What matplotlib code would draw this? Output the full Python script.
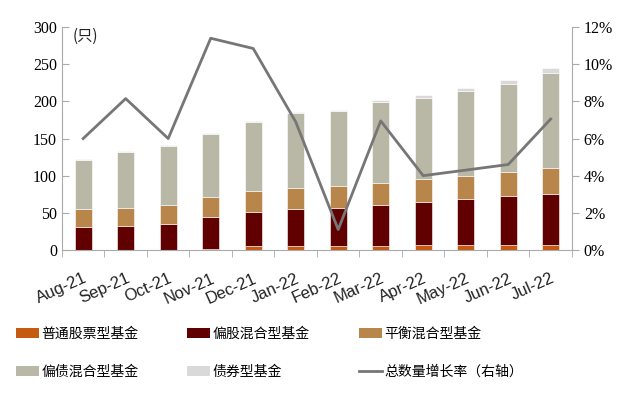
import numpy as np
import matplotlib
matplotlib.use('Agg')
import matplotlib.pyplot as plt
import matplotlib.transforms as mtrans
from matplotlib.patches import Patch
from matplotlib.lines import Line2D

plt.rcParams['font.family'] = ['Noto Sans CJK SC', 'DejaVu Sans']

months = ['Aug-21', 'Sep-21', 'Oct-21', 'Nov-21', 'Dec-21', 'Jan-22',
          'Feb-22', 'Mar-22', 'Apr-22', 'May-22', 'Jun-22', 'Jul-22']
stock_fund = [0, 0, 0, 1.5, 5, 5, 5, 5, 6, 6, 6, 7]
stock_mixed = [30.5, 32, 34.5, 43.5, 46, 50, 51.5, 55.5, 58, 62, 66, 68]
balanced_mixed = [24, 24, 25.5, 26, 28, 29, 29, 29.5, 31, 32, 32.5, 36]
bond_mixed = [67, 76, 80, 85, 93, 100, 101, 109, 110, 114, 119, 127]
bond_fund = [1, 1.5, 1.5, 1.5, 2, 2, 2, 3, 4, 4, 5, 7]
growth = [6.0, 8.15, 6.0, 11.4, 10.85, 6.9, 1.1, 6.95, 4.0, 4.3, 4.6, 7.05]

names = ['普通股票型基金', '偏股混合型基金', '平衡混合型基金', '偏债混合型基金', '债券型基金']
colors = ['#C55A11', '#600000', '#B8864B', '#B9B8A6', '#D9D9D9']
line_name = '总数量增长率（右轴）'

fig = plt.figure(figsize=(6.32, 3.93), dpi=100)
ax = fig.add_axes([0.098, 0.364, 0.807, 0.567])
x = np.arange(len(months))
bottom = np.zeros(len(months))
for vals, c in zip([stock_fund, stock_mixed, balanced_mixed, bond_mixed, bond_fund], colors):
    ax.bar(x, vals, 0.4, bottom=bottom, color=c, edgecolor='white', linewidth=0.4, zorder=2)
    bottom += np.array(vals)

ax.set_xlim(-0.5, len(months) - 0.5)
ax.set_ylim(0, 300)
ax.set_yticks(range(0, 301, 50))
ax.set_xticks(x)
ax.set_xticklabels(months, rotation=24, ha='right', rotation_mode='anchor',
                   family='Liberation Sans', fontsize=12, color='#222222')
shift = mtrans.ScaledTranslation(9 / 100, 0, fig.dpi_scale_trans)
for lab in ax.get_xticklabels():
    lab.set_transform(lab.get_transform() + shift)
ax.set_xticks(np.arange(-0.5, len(months), 1), minor=True)
ax.tick_params(axis='x', which='major', length=0, pad=15)
ax.tick_params(axis='x', which='minor', length=5, color='#AAAAAA', direction='out')
ax.tick_params(axis='y', length=5, color='#AAAAAA', direction='in', labelsize=11.5)
for lab in ax.get_yticklabels():
    lab.set_family('Liberation Serif')

for s in ['top', 'right']:
    ax.spines[s].set_visible(False)
for s in ['left', 'bottom']:
    ax.spines[s].set_color('#AAAAAA')
ax.text(0.02, 0.995, '(只)', transform=ax.transAxes, fontsize=11, va='top', color='#222222')

ax2 = ax.twinx()
ax2.plot(x, growth, color='#767676', linewidth=2, zorder=5)
ax2.set_ylim(0, 12)
ax2.set_yticks(range(0, 13, 2))
ax2.set_yticklabels([f'{v}%' for v in range(0, 13, 2)], family='Liberation Serif', fontsize=11.5)
ax2.tick_params(axis='y', length=5, color='#AAAAAA', direction='out')
for s in ['top', 'left', 'bottom']:
    ax2.spines[s].set_visible(False)
ax2.spines['right'].set_color('#AAAAAA')

# legend fills row by row in the reference, so reorder for column-major layout
handles = [Patch(facecolor=c) for c in colors] + [Line2D([0], [0], color='#767676', lw=2)]
labels = names + [line_name]
order = [0, 3, 1, 4, 2, 5]
fig.legend([handles[i] for i in order], [labels[i] for i in order],
           loc='upper left', bbox_to_anchor=(0.025, 0.168),
           ncol=3, frameon=False, fontsize=10, handlelength=1.65, handleheight=0.7,
           handletextpad=0.2, columnspacing=3.5, labelspacing=1.7,
           borderpad=0, borderaxespad=0)

fig.savefig('out.png', dpi=100)
